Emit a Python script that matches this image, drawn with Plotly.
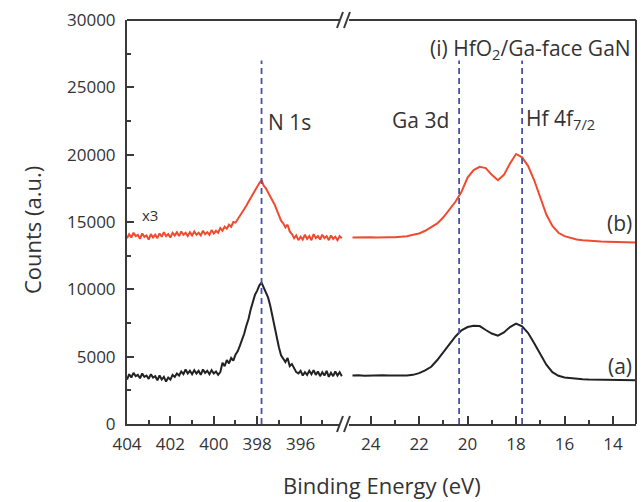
import plotly.graph_objects as go

# ---------------- data ----------------
n1s_energy = [404.0, 403.9, 403.8, 403.7, 403.6, 403.5, 403.4, 403.3, 403.2, 403.1,
              403.0, 402.9, 402.8, 402.7, 402.6, 402.5, 402.4, 402.3, 402.2, 402.1,
              402.0, 401.9, 401.8, 401.7, 401.6, 401.5, 401.4, 401.3, 401.2, 401.1,
              401.0, 400.9, 400.8, 400.7, 400.6, 400.5, 400.4, 400.3, 400.2, 400.1,
              400.0, 399.9, 399.8, 399.7, 399.6, 399.5, 399.4, 399.3, 399.2, 399.1,
              399.0, 398.9, 398.8, 398.7, 398.6, 398.5, 398.4, 398.3, 398.2, 398.1,
              398.0, 397.9, 397.8, 397.7, 397.6, 397.5, 397.4, 397.3, 397.2, 397.1,
              397.0, 396.9, 396.8, 396.7, 396.6, 396.5, 396.4, 396.3, 396.2, 396.1,
              396.0, 395.9, 395.8, 395.7, 395.6, 395.5, 395.4, 395.3, 395.2, 395.1,
              395.0, 394.9, 394.8, 394.7, 394.6, 394.5, 394.4, 394.3, 394.2, 394.1]

n1s_a = [3300, 3700, 3450, 3800, 3550, 3650, 3400, 3750, 3500, 3600,
         3350, 3700, 3450, 3550, 3250, 3600, 3300, 3500, 3150, 3450,
         3300, 3650, 3500, 3750, 3600, 3900, 3700, 4050, 3750, 3950,
         3700, 4000, 3750, 3950, 3650, 4050, 3800, 3950, 3700, 4000,
         3750, 3900, 3650, 3850, 4550, 4300, 4750, 4500, 4900, 4700,
         5150, 5400, 5800, 6200, 6700, 7300, 7800, 8500, 9100, 9600,
         9900, 10300, 10500, 10100, 9800, 9400, 8800, 8000, 7200, 6400,
         5700, 5100, 4800, 4600, 4900, 4300, 4450, 4100, 3850, 3750,
         3950, 3600, 3850, 3650, 3950, 3700, 4000, 3650, 3900, 3550,
         3850, 3600, 3950, 3500, 3800, 3550, 3900, 3600, 3850, 3550]

n1s_b = [13800, 14100, 13850, 14200, 13950, 14050, 13750, 14150, 13900, 14000,
         13700, 14100, 13850, 14050, 13800, 14150, 13900, 14250, 13950, 14100,
         13850, 14200, 14000, 14250, 13950, 14300, 14050, 14200, 13950, 14250,
         14000, 14300, 14050, 14200, 14000, 14350, 14100, 14250, 14050, 14400,
         14150, 14350, 14200, 14550, 14350, 14650, 14500, 14800, 14650, 15000,
         14950, 15200, 15450, 15600, 15900, 16200, 16500, 16800, 17100, 17350,
         17600, 17900, 18100, 17700, 17500, 17200, 16900, 16700, 16300, 15900,
         15500, 15100, 14900, 14600, 14800, 14300, 14100, 13800, 14000, 13650,
         13900, 13700, 14050, 13750, 13950, 13650, 14100, 13800, 13950, 13700,
         14050, 13800, 13950, 13650, 14000, 13750, 13900, 13650, 13950, 13800]

vb_energy = [24.75, 24.5, 24.25, 24.0, 23.75, 23.5, 23.25, 23.0, 22.75, 22.5,
             22.25, 22.0, 21.75, 21.5, 21.25, 21.0, 20.75, 20.5, 20.25, 20.0,
             19.75, 19.5, 19.25, 19.0, 18.75, 18.5, 18.25, 18.0, 17.75, 17.5,
             17.25, 17.0, 16.75, 16.5, 16.25, 16.0, 15.75, 15.5, 15.25, 15.0,
             14.75, 14.5, 14.25, 14.0, 13.75, 13.5, 13.25, 13.0]

vb_a = [3600, 3620, 3580, 3610, 3590, 3620, 3600, 3590, 3620, 3610,
        3650, 3780, 3980, 4250, 4750, 5350, 5950, 6500, 6950, 7200,
        7300, 7270, 6980, 6720, 6560, 6800, 7200, 7450, 7250, 6750,
        6000, 5250, 4400, 3850, 3580, 3460, 3400, 3360, 3330, 3300,
        3290, 3270, 3260, 3250, 3250, 3240, 3250, 3240]

vb_b = [13850, 13870, 13840, 13860, 13850, 13880, 13860, 13870, 13900, 13950,
        14050, 14150, 14350, 14600, 14900, 15350, 15900, 16500, 17250, 18300,
        18850, 19100, 19000, 18500, 18100, 18500, 19350, 20050, 19800, 19150,
        18100, 16800, 15550, 14700, 14200, 13950, 13800, 13700, 13650, 13600,
        13580, 13550, 13540, 13520, 13500, 13500, 13490, 13480]

left_ticks = [404, 402, 400, 398, 396]
left_minor = [403, 401, 399, 397, 395]
right_ticks = [24, 22, 20, 18, 16, 14]
right_minor = [23, 21, 19, 17, 15]
y_ticks = [0, 5000, 10000, 15000, 20000, 25000, 30000]

peak_n1s = 397.8
peak_ga3d = 20.35
peak_hf4f = 17.75
dash_top = 27000

# ---------------- styling ----------------
RED = "#f04b30"
BLACK = "#222222"
AXIS = "#3a3a3a"
TEXT = "#333333"
DASHC = "#4a52a8"
FONT = "Open Sans"
D = 0.4263  # break position (paper)

fig = go.Figure()
fig.add_trace(go.Scatter(x=n1s_energy, y=n1s_b, mode="lines", line=dict(color=RED, width=2),
                         xaxis="x", yaxis="y", showlegend=False))
fig.add_trace(go.Scatter(x=n1s_energy, y=n1s_a, mode="lines", line=dict(color=BLACK, width=2),
                         xaxis="x", yaxis="y", showlegend=False))
fig.add_trace(go.Scatter(x=vb_energy, y=vb_b, mode="lines", line=dict(color=RED, width=2),
                         xaxis="x2", yaxis="y", showlegend=False))
fig.add_trace(go.Scatter(x=vb_energy, y=vb_a, mode="lines", line=dict(color=BLACK, width=2),
                         xaxis="x2", yaxis="y", showlegend=False))

tickfont = dict(family=FONT, size=17, color=TEXT)
common_x = dict(showline=True, linecolor=AXIS, linewidth=2, ticks="inside", ticklen=8,
                tickwidth=1.5, tickcolor=AXIS, showgrid=False, zeroline=False,
                tickfont=tickfont, ticklabelstandoff=4)

fig.update_layout(
    width=644, height=502,
    margin=dict(l=127, r=8, t=17, b=78),
    paper_bgcolor="white", plot_bgcolor="white",
    xaxis=dict(domain=[0, D], range=[404, 394], tickvals=left_ticks, anchor="y",
               minor=dict(tickvals=left_minor, ticks="inside", ticklen=4, tickwidth=1.5,
                          tickcolor=AXIS, showgrid=False),
               **common_x),
    xaxis2=dict(domain=[D, 1], range=[25.1, 13.05], tickvals=right_ticks, anchor="y",
                minor=dict(tickvals=right_minor, ticks="inside", ticklen=4, tickwidth=1.5,
                           tickcolor=AXIS, showgrid=False),
                **common_x),
    yaxis=dict(domain=[0, 1], range=[0, 30000], tickvals=y_ticks, tickformat="d",
               anchor="x",
               showline=True, linecolor=AXIS, linewidth=2, ticks="inside", ticklen=7,
               tickwidth=1.5, tickcolor=AXIS, showgrid=False, zeroline=False,
               tickfont=tickfont, ticklabelstandoff=6,
               minor=dict(dtick=2500, tick0=0, ticks="inside", ticklen=4, tickwidth=1.5,
                          tickcolor=AXIS, showgrid=False)),
)

shapes = []
# dashed peak markers
for xr, xv in (("x", peak_n1s), ("x2", peak_ga3d), ("x2", peak_hf4f)):
    shapes.append(dict(type="line", xref=xr, yref="y", x0=xv, x1=xv, y0=0, y1=dash_top,
                       line=dict(color=DASHC, width=1.8, dash="6px,4px")))
# top and right frame
shapes.append(dict(type="line", xref="paper", yref="paper", x0=0, x1=1, y0=1, y1=1,
                   line=dict(color=AXIS, width=2)))
shapes.append(dict(type="line", xref="paper", yref="paper", x0=1, x1=1, y0=0, y1=1,
                   line=dict(color=AXIS, width=2)))
# axis breaks
for yy in (0, 1):
    shapes.append(dict(type="line", xref="paper", yref="paper", xsizemode="pixel",
                       ysizemode="pixel", xanchor=D, yanchor=yy, x0=-4, x1=5, y0=0, y1=0,
                       line=dict(color="white", width=5)))
    for dx in (-4, 3):
        shapes.append(dict(type="line", xref="paper", yref="paper", xsizemode="pixel",
                           ysizemode="pixel", xanchor=D, yanchor=yy,
                           x0=dx - 3, x1=dx + 3, y0=-8, y1=8,
                           line=dict(color=AXIS, width=2)))
fig.update_layout(shapes=shapes)

ann = [
    dict(text="Counts (a.u.)", xref="paper", yref="paper", x=0, y=0.48, xshift=-95,
         textangle=-90, showarrow=False, font=dict(family=FONT, size=22, color=TEXT),
         xanchor="center", yanchor="middle"),
    dict(text="Binding Energy (eV)", xref="paper", yref="paper", x=0.5, y=0, yshift=-61,
         showarrow=False, font=dict(family=FONT, size=22, color=TEXT),
         xanchor="center", yanchor="middle"),
    dict(text="N 1s", xref="x", yref="y", x=peak_n1s, y=22400, xshift=4,
         showarrow=False, font=dict(family=FONT, size=21, color=TEXT),
         xanchor="left", yanchor="middle"),
    dict(text="x3", xref="x", yref="y", x=403.4, y=15530, showarrow=False,
         font=dict(family=FONT, size=15, color=TEXT), xanchor="left", yanchor="middle"),
    dict(text="(i) HfO<sub>2</sub>/Ga-face GaN", xref="paper", yref="paper", x=1, y=1,
         xshift=-3, yshift=-12, showarrow=False, font=dict(family=FONT, size=21, color=TEXT),
         xanchor="right", yanchor="top"),
    dict(text="Ga 3d", xref="x2", yref="y", x=peak_ga3d, y=22600, xshift=-8,
         showarrow=False, font=dict(family=FONT, size=21, color=TEXT),
         xanchor="right", yanchor="middle"),
    dict(text="Hf 4f<sub>7/2</sub>", xref="x2", yref="y", x=peak_hf4f, y=22600, xshift=2,
         showarrow=False, font=dict(family=FONT, size=21, color=TEXT),
         xanchor="left", yanchor="top", yshift=18),
    dict(text="(b)", xref="paper", yref="y", x=1, y=14900, xshift=-2, showarrow=False,
         font=dict(family=FONT, size=21, color=TEXT), xanchor="right", yanchor="middle"),
    dict(text="(a)", xref="paper", yref="y", x=1, y=4300, xshift=-2, showarrow=False,
         font=dict(family=FONT, size=21, color=TEXT), xanchor="right", yanchor="middle"),
]
fig.update_layout(annotations=ann)

fig.write_html("out.html")
